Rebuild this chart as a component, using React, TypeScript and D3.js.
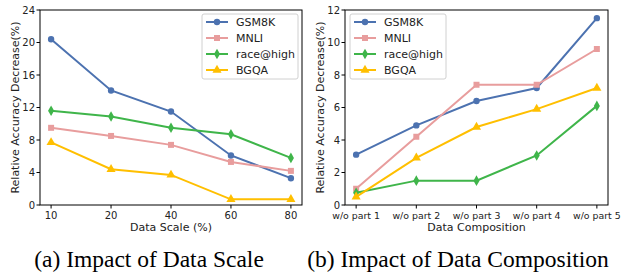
import React from "react";
import * as d3 from "d3";

const scaleCats = ["10", "20", "40", "60", "80"];
const compCats = ["w/o part 1", "w/o part 2", "w/o part 3", "w/o part 4", "w/o part 5"];
const seriesNames = ["GSM8K", "MNLI", "race@high", "BGQA"];

const scaleGsm = [20.4, 14.1, 11.5, 6.1, 3.3];
const scaleMnli = [9.5, 8.5, 7.4, 5.3, 4.2];
const scaleRace = [11.6, 10.9, 9.5, 8.7, 5.8];
const scaleBgqa = [7.7, 4.4, 3.7, 0.7, 0.7];

const compGsm = [3.1, 4.9, 6.4, 7.2, 11.5];
const compMnli = [1.0, 4.2, 7.4, 7.4, 9.6];
const compRace = [0.75, 1.5, 1.5, 3.05, 6.1];
const compBgqa = [0.5, 2.9, 4.8, 5.9, 7.2];

const scaleTicks = [0, 4, 8, 12, 16, 20, 24];
const compTicks = [0, 2, 4, 6, 8, 10, 12];

const colors = ["#4c72b0", "#e89d9d", "#3fb54a", "#ffbf00"];
const shapes = [d3.symbolCircle, d3.symbolSquare, d3.symbolDiamond, d3.symbolTriangle];
const sizes = [32, 36, 32, 36];

const font = "DejaVu Sans, sans-serif";

type PanelProps = {
  left: number;
  right: number;
  cats: string[];
  series: number[][];
  yMax: number;
  ticks: number[];
  xTitle: string;
  legendX: number;
  tickSize: number;
};

const top = 10,
  bottom = 205;

const Panel = ({ left, right, cats, series, yMax, ticks, xTitle, legendX, tickSize }: PanelProps) => {
  const x = d3.scalePoint<string>().domain(cats).range([left, right]).padding(0.185);
  const y = d3.scaleLinear().domain([0, yMax]).range([bottom, top]);
  const line = d3
    .line<number>()
    .x((_, i) => x(cats[i]) as number)
    .y((d) => y(d));

  return (
    <g>
      {series.map((s, k) => (
        <g key={k}>
          <path d={line(s) || ""} fill="none" stroke={colors[k]} strokeWidth={2} />
          {s.map((v, i) => (
            <path
              key={i}
              d={d3.symbol().type(shapes[k]).size(sizes[k])() || ""}
              transform={`translate(${x(cats[i])},${y(v)})`}
              fill={colors[k]}
            />
          ))}
        </g>
      ))}
      <rect x={left} y={top} width={right - left} height={bottom - top} fill="none" stroke="#000" strokeWidth={1} />
      {ticks.map((t) => (
        <g key={t}>
          <line x1={left - 3.5} x2={left} y1={y(t)} y2={y(t)} stroke="#000" />
          <text x={left - 5} y={y(t) + 3.5} textAnchor="end" fontSize={10} fontFamily={font} fill="#222">
            {t}
          </text>
        </g>
      ))}
      {cats.map((c) => (
        <g key={c}>
          <line x1={x(c)} x2={x(c)} y1={bottom} y2={bottom + 3.5} stroke="#000" />
          <text x={x(c)} y={bottom + 14} textAnchor="middle" fontSize={tickSize} fontFamily={font} fill="#222">
            {c}
          </text>
        </g>
      ))}
      <text
        x={(left + right) / 2}
        y={bottom + 26}
        textAnchor="middle"
        fontSize={11}
        fontFamily={font}
        fill="#222"
      >
        {xTitle}
      </text>
      <text
        transform={`translate(${left - 21},${(top + bottom) / 2}) rotate(-90)`}
        textAnchor="middle"
        fontSize={11}
        fontFamily={font}
        fill="#222"
      >
        Relative Accuracy Decrease(%)
      </text>
      <g transform={`translate(${legendX},14)`}>
        <rect x={0} y={0} width={96} height={65} rx={2} fill="#fff" fillOpacity={0.85} stroke="#d0d0d0" />
        {seriesNames.map((n, k) => (
          <g key={n} transform={`translate(0,${8 + k * 16})`}>
            <line x1={4} x2={26} y1={0} y2={0} stroke={colors[k]} strokeWidth={2} />
            <path
              d={d3.symbol().type(shapes[k]).size(sizes[k])() || ""}
              transform="translate(15,0)"
              fill={colors[k]}
            />
            <text x={34} y={4} fontSize={11} fontFamily={font} fill="#222">
              {n}
            </text>
          </g>
        ))}
      </g>
    </g>
  );
};

const App = () => {
  return (
    <svg width={621} height={272} style={{ position: "absolute", left: 0, top: 0, background: "#fff" }}>
      <Panel
        left={40}
        right={302}
        cats={scaleCats}
        series={[scaleGsm, scaleMnli, scaleRace, scaleBgqa]}
        yMax={24}
        ticks={scaleTicks}
        xTitle="Data Scale (%)"
        legendX={202}
        tickSize={10}
      />
      <Panel
        left={345}
        right={608}
        cats={compCats}
        series={[compGsm, compMnli, compRace, compBgqa]}
        yMax={12}
        ticks={compTicks}
        xTitle="Data Composition"
        legendX={350}
        tickSize={9.4}
      />
      <text x={149} y={267} textAnchor="middle" fontSize={23.5} fontFamily="Liberation Serif, serif" fill="#000">
        (a)  Impact of Data Scale
      </text>
      <text x={458} y={267} textAnchor="middle" fontSize={23.5} fontFamily="Liberation Serif, serif" fill="#000">
        (b)  Impact of Data Composition
      </text>
    </svg>
  );
};

export default App;
